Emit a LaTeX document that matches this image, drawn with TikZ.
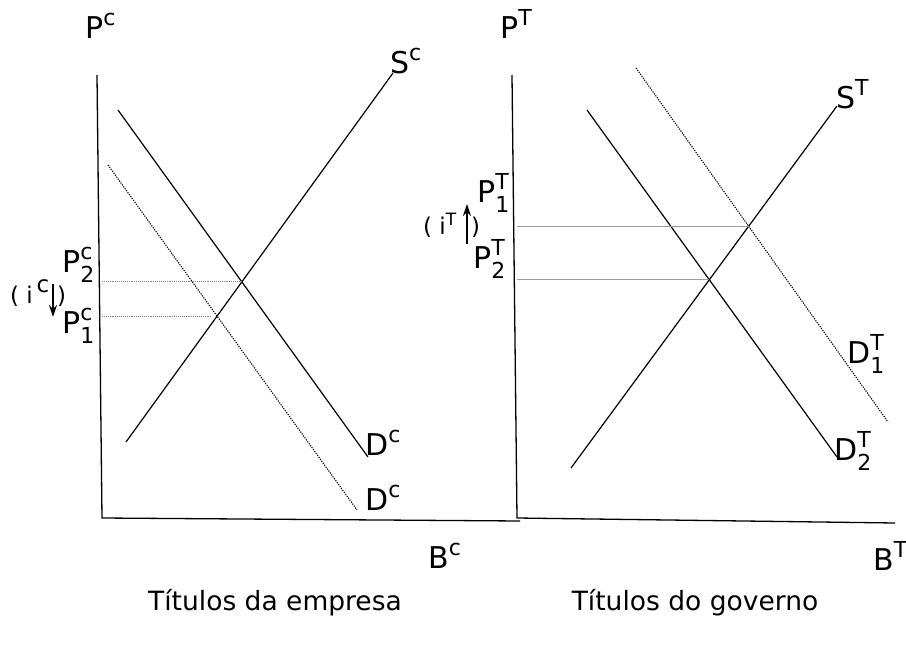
\documentclass[tikz,border=0pt]{standalone}
\usepackage{fontspec}
\setmainfont{DejaVu Sans}
\usetikzlibrary{arrows.meta,positioning,calc,intersections}
\newcommand{\up}[1]{\raisebox{0.42em}{\fontsize{22}{22}\selectfont #1}}
\newcommand{\upsub}[3]{#1\rlap{\up{#2}}\raisebox{-0.36em}{\fontsize{22}{22}\selectfont #3}}

\begin{document}
\begin{tikzpicture}[x=1pt,y=-1pt,
  axisline/.style={line width=1.3pt,black},
  curve/.style={line width=1.2pt,black},
  curveshift/.style={line width=1.1pt,black,dash pattern=on 1.2pt off 1.2pt},
  guide/.style={line width=0.9pt,gray,densely dotted},
  guidesolid/.style={line width=0.9pt,gray!80},
  lbl/.style={font=\fontsize{30}{32}\selectfont,inner sep=0pt,anchor=base west},
  rate/.style={font=\fontsize{23}{24}\selectfont,inner sep=0pt,anchor=base west},
  ratearr/.style={-{Stealth[length=12pt,width=8pt]},line width=1.5pt},
  caption/.style={font=\fontsize{26.5}{30}\selectfont,inner sep=0pt},
]
\useasboundingbox (0,0) rectangle (906,648);

% corporate bonds
\coordinate (cO) at (102,518);
\coordinate (cPtop) at (97,75);
\coordinate (cBend) at (520,521);
\draw[axisline] (cPtop) -- (cO) -- (cBend);
\coordinate (cS0) at (126,442);
\coordinate (cS1) at (393,73);
\coordinate (cD0) at (118,110);
\coordinate (cD1) at (368,457);
\coordinate (cDd0) at (108,165);
\coordinate (cDd1) at (357,510);
\draw[curve,name path=Sc] (cS0) -- (cS1);
\draw[curve,name path=Dc] (cD0) -- (cD1);
\draw[curveshift,name path=Dcd] (cDd0) -- (cDd1);
\path[name intersections={of=Sc and Dc,by=cE2}];
\path[name intersections={of=Sc and Dcd,by=cE1}];
\draw[guide] (cO |- cE2) -- (cE2);
\draw[guide,shorten >=5pt] (cO |- cE1) -- (cE1);

\node[lbl] (Pc) at (85,38) {P\up{c}};
\node[lbl] (Pc2) at (62,272) {\upsub{P}{c}{2}};
\node[lbl] (Pc1) at (62,333) {\upsub{P}{c}{1}};
\node[lbl] (Sclbl) at (390,73) {S\up{c}};
\node[lbl] (Dclbl) at (365,455) {D\up{c}};
\node[lbl] (Dcdlbl) at (365,510) {D\up{c}};
\node[lbl] (Bc) at (428,568) {B\up{c}};
\node[rate] (ic) at (10,303) {( i\,\raisebox{11pt}{c}};
\coordinate (icA) at (53,284);
\coordinate (icB) at (53,317);
\draw[ratearr] (icA) -- (icB);
\node[rate] (icr) at (57,303) {)};

% government bonds
\coordinate (tO) at (517,518);
\coordinate (tPtop) at (512,75);
\coordinate (tBend) at (895,523);
\draw[axisline] (tPtop) -- (tO) -- (tBend);
\coordinate (tS0) at (571,468);
\coordinate (tS1) at (837,106);
\coordinate (tD0) at (587,110);
\coordinate (tD1) at (837,457);
\coordinate (tDd0) at (636,68);
\coordinate (tDd1) at (888,422);
\draw[curve,name path=St] (tS0) -- (tS1);
\draw[curve,name path=Dt] (tD0) -- (tD1);
\draw[curveshift,name path=Dtd] (tDd0) -- (tDd1);
\path[name intersections={of=St and Dt,by=tE2}];
\path[name intersections={of=St and Dtd,by=tE1}];
\draw[guidesolid] (tO |- tE1) -- (tE1);
\draw[guidesolid] (tO |- tE2) -- (tE2);

\node[lbl] (PT) at (500,38) {P\up{T}};
\node[lbl] (PT1) at (477,202) {\upsub{P}{T}{1}};
\node[lbl] (PT2) at (473,268) {\upsub{P}{T}{2}};
\node[lbl] (STlbl) at (836,108) {S\up{T}};
\node[lbl] (DT1lbl) at (847,363) {\upsub{D}{T}{1}};
\node[lbl] (DT2lbl) at (834,460) {\upsub{D}{T}{2}};
\node[lbl] (BT) at (873,570) {B\up{T}};
\node[rate] (iT) at (423,234) {( i\raisebox{9pt}{\fontsize{17}{17}\selectfont T}};
\coordinate (iTA) at (467,244);
\coordinate (iTB) at (467,204);
\draw[ratearr] (iTA) -- (iTB);
\node[rate] (iTr) at (471,234) {)};

\node[caption] (capc) at (275,603) {Títulos da empresa};
\node[caption] (capt) at (695,603) {Títulos do governo};
\end{tikzpicture}
\end{document}
